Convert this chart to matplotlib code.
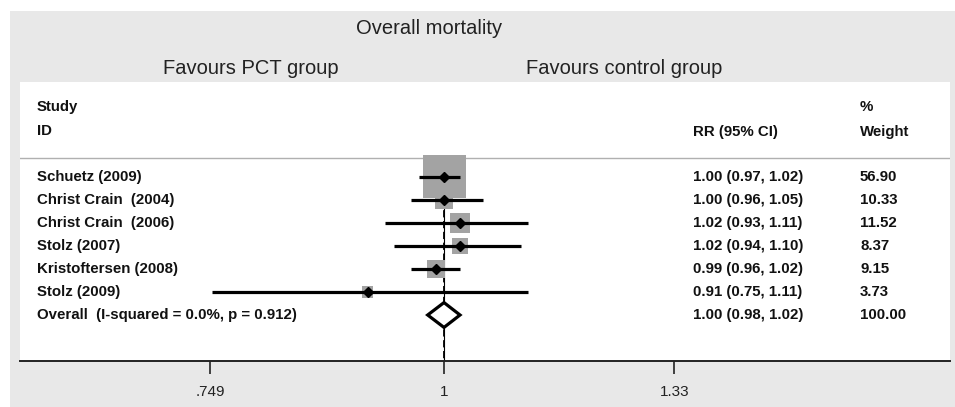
import numpy as np
import matplotlib
matplotlib.use("Agg")
import matplotlib.pyplot as plt
from matplotlib.patches import Rectangle, Polygon

# Study-level data
studies = ["Schuetz (2009)", "Christ Crain  (2004)", "Christ Crain  (2006)",
           "Stolz (2007)", "Kristoftersen (2008)", "Stolz (2009)"]
rr = [1.00, 1.00, 1.02, 1.02, 0.99, 0.91]
ci_low = [0.97, 0.96, 0.93, 0.94, 0.96, 0.75]
ci_high = [1.02, 1.05, 1.11, 1.10, 1.02, 1.11]
weights = [56.90, 10.33, 11.52, 8.37, 9.15, 3.73]

# Pooled estimate
overall_label = "Overall  (I-squared = 0.0%, p = 0.912)"
overall_rr = 1.00
overall_low = 0.98
overall_high = 1.02
overall_weight = 100.00

# Axis ticks
tick_values = [0.749, 1.0, 1.33]
tick_labels = [".749", "1", "1.33"]

W, H = 955, 407
fig = plt.figure(figsize=(W / 100, H / 100), dpi=100)
fig.patch.set_facecolor("white")

sans = ["Liberation Sans", "DejaVu Sans"]

# Gray graph region
fig.patches.append(Rectangle((10 / W, 0), 1 - 10 / W, (H - 11) / H,
                             transform=fig.transFigure, facecolor="#e8e8e8",
                             edgecolor="none", zorder=-10))

# Plot region (white panel)
left, right, top, bottom = 20, 950, 82, 361
ax = fig.add_axes([left / W, (H - bottom) / H, (right - left) / W, (bottom - top) / H])
ax.set_zorder(1)
ax.set_facecolor("white")
ax.set_xscale("log")

center = 444.0
px_per_ln = 808.0
ax.set_xlim(np.exp((left - center) / px_per_ln), np.exp((right - center) / px_per_ln))
ax.set_ylim(8.0, -4.13)

for s in ["top", "left", "right"]:
    ax.spines[s].set_visible(False)
ax.spines["bottom"].set_linewidth(1.4)
ax.spines["bottom"].set_color("#222222")
ax.set_yticks([])
ax.xaxis.set_minor_locator(matplotlib.ticker.NullLocator())
ax.set_xticks(tick_values)
ax.set_xticklabels(tick_labels, family=sans, fontsize=11)
ax.tick_params(axis="x", length=9, width=1.2, direction="out", pad=8, color="#222222",
               labelcolor="#222222")

# Reference lines at the null and at the pooled estimate
ax.plot([1.0, 1.0], [-0.9, 8.0], color="black", lw=0.8, zorder=2)
ax.plot([overall_rr, overall_rr], [-0.9, 8.0], color="black", lw=1.3,
        ls=(0, (4, 2)), zorder=2)

# Header separator
ax.plot([0, 1], [-0.83, -0.83], color="#b0b0b0", lw=1.0, transform=ax.get_yaxis_transform(),
        zorder=1)

# Study rows
ref_side = 43.0  # pixel side of the largest box
for i, (lab, r, lo, hi, w) in enumerate(zip(studies, rr, ci_low, ci_high, weights)):
    side_pt = ref_side * np.sqrt(w / max(weights)) * 0.72
    ax.scatter([r], [i], marker="s", s=side_pt ** 2, color="#a3a3a3",
               edgecolors="none", zorder=3)
    ax.plot([lo, hi], [i, i], color="black", lw=2.3, solid_capstyle="butt", zorder=4)
    ax.plot([r], [i], marker="D", ms=5.5, color="black", zorder=5)

# Pooled diamond
yo = len(studies)
dh = 0.54
diamond = Polygon([[overall_low, yo], [overall_rr, yo - dh], [overall_high, yo],
                   [overall_rr, yo + dh]], closed=True, facecolor="white",
                  edgecolor="black", lw=2.3, zorder=5)
ax.add_patch(diamond)

# Text columns
trans = ax.get_yaxis_transform()
x_lab = (37 - left) / (right - left)
x_rr = (693 - left) / (right - left)
x_w = (860 - left) / (right - left)
fs = 10.8
kw = dict(transform=trans, va="center", ha="left", fontsize=fs, family=sans,
          fontweight="bold", color="#111111")

ax.text(x_lab, -3.04, "Study", **kw)
ax.text(x_lab, -2.0, "ID", **kw)
ax.text(x_rr, -1.95, "RR (95% CI)", **kw)
ax.text(x_w, -3.04, "%", **kw)
ax.text(x_w, -1.95, "Weight", **kw)

for i, (lab, r, lo, hi, w) in enumerate(zip(studies, rr, ci_low, ci_high, weights)):
    ax.text(x_lab, i, lab, **kw)
    ax.text(x_rr, i, f"{r:.2f} ({lo:.2f}, {hi:.2f})", **kw)
    ax.text(x_w, i, f"{w:.2f}", **kw)

ax.text(x_lab, yo, overall_label, **kw)
ax.text(x_rr, yo, f"{overall_rr:.2f} ({overall_low:.2f}, {overall_high:.2f})", **kw)
ax.text(x_w, yo, f"{overall_weight:.2f}", **kw)

# Titles in the gray band
title_kw = dict(ha="center", va="center", fontsize=14.5, family=sans, color="#222222")
fig.text(429 / W, 1 - 28 / H, "Overall mortality", **title_kw)
fig.text(251 / W, 1 - 68 / H, "Favours PCT group", **title_kw)
fig.text(624 / W, 1 - 68 / H, "Favours control group", **title_kw)

fig.savefig("out.png", dpi=100, facecolor=fig.get_facecolor())
